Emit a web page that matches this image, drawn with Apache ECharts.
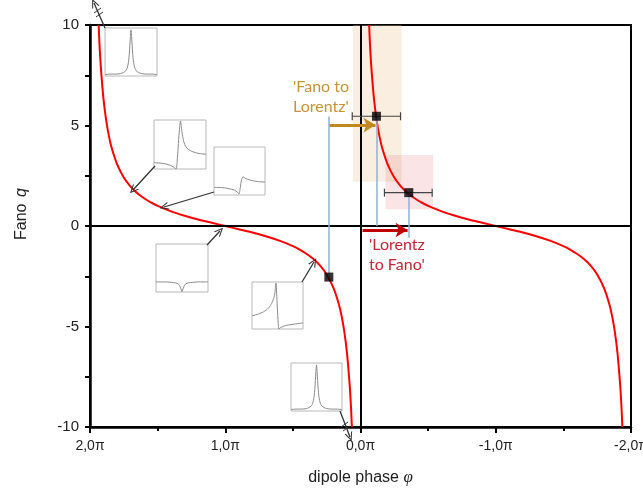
<!DOCTYPE html>
<html>
<head>
<meta charset="utf-8">
<script src="https://cdn.jsdelivr.net/npm/echarts@6/dist/echarts.min.js"></script>
<style>
  html, body { margin: 0; padding: 0; background: #fff; }
  #chart { width: 643px; height: 492px; }
</style>
</head>
<body>
<div id="chart"></div>
<script>
// dipole phase in units of pi, Fano q
const phaseLeft = [1.936, 1.93, 1.92, 1.90, 1.88, 1.86, 1.84, 1.80, 1.75, 1.70, 1.65, 1.60, 1.55, 1.50, 1.40, 1.30, 1.20, 1.10, 1.00,
  0.90, 0.80, 0.70, 0.60, 0.50, 0.45, 0.40, 0.35, 0.30, 0.25, 0.20, 0.16, 0.14, 0.12, 0.10, 0.08, 0.07, 0.064]
const fanoLeft = [10.0, 9.06, 7.92, 6.31, 5.24, 4.47, 3.89, 3.08, 2.41, 1.96, 1.63, 1.38, 1.17, 1.00, 0.73, 0.51, 0.32, 0.16, 0,
  -0.16, -0.32, -0.51, -0.73, -1.00, -1.17, -1.38, -1.63, -1.96, -2.41, -3.08, -3.89, -4.47, -5.24, -6.31, -7.92, -9.06, -10.0]
const phaseRight = [-0.064, -0.07, -0.08, -0.10, -0.12, -0.14, -0.16, -0.20, -0.25, -0.30, -0.35, -0.40, -0.45, -0.50, -0.60, -0.70, -0.80, -0.90, -1.00,
  -1.10, -1.20, -1.30, -1.40, -1.50, -1.55, -1.60, -1.65, -1.70, -1.75, -1.80, -1.84, -1.86, -1.88, -1.90, -1.92, -1.93, -1.936]
const fanoRight = [10.0, 9.06, 7.92, 6.31, 5.24, 4.47, 3.89, 3.08, 2.41, 1.96, 1.63, 1.38, 1.17, 1.00, 0.73, 0.51, 0.32, 0.16, 0,
  -0.16, -0.32, -0.51, -0.73, -1.00, -1.17, -1.38, -1.63, -1.96, -2.41, -3.08, -3.89, -4.47, -5.24, -6.31, -7.92, -9.06, -10.0]

// measured points (black squares)
const pointPhase = [0.234, -0.118, -0.357]
const pointFano = [-2.54, 5.46, 1.66]

// horizontal error bars: centre phase, q, low, high
const errPhase = [-0.118, -0.357]
const errFano = [5.46, 1.66]
const errFrom = [0.061, -0.177]
const errTo = [-0.296, -0.530]

// shaded ranges [phase from, phase to, q from, q to]
const bandFanoLorentz = [0.056, -0.304, 2.2, 10]
const bandLorentzFano = [-0.185, -0.537, 0.83, 3.53]

// blue guide lines [phase, q from, q to]
const guideLines = [[0.234, 5.45, -2.54], [-0.118, 5.46, 0], [-0.357, 1.66, -0.58]]

// arrows [phase from, phase to, q]
const arrowFanoLorentz = [0.229, -0.111, 5.02]
const arrowLorentzFano = [-0.015, -0.348, -0.2]

const xTicks = [2, 1, 0, -1, -2]

// small line shapes in the insets (x -1..1, y 0..1)
const peakX = [-1, -0.8, -0.6, -0.4, -0.3, -0.2, -0.15, -0.1, -0.06, -0.03, 0, 0.03, 0.06, 0.1, 0.15, 0.2, 0.3, 0.4, 0.6, 0.8, 1]
const peakY = [0.03, 0.04, 0.04, 0.05, 0.07, 0.11, 0.16, 0.28, 0.5, 0.77, 0.96, 0.77, 0.5, 0.28, 0.16, 0.11, 0.07, 0.05, 0.04, 0.04, 0.03]
const fanoPosX = [-1, -0.6, -0.4, -0.25, -0.15, -0.11, -0.07, -0.03, 0.02, 0.06, 0.1, 0.15, 0.22, 0.32, 0.5, 0.7, 1]
const fanoPosY = [0.13, 0.11, 0.08, 0.04, 0.0, 0.15, 0.45, 0.75, 0.98, 0.82, 0.67, 0.55, 0.46, 0.4, 0.35, 0.32, 0.3]
const fanoOneX = [-1, -0.6, -0.4, -0.2, -0.08, -0.02, 0.03, 0.08, 0.14, 0.2, 0.3, 0.5, 0.7, 1]
const fanoOneY = [0.16, 0.15, 0.13, 0.1, 0.06, 0.02, 0.15, 0.32, 0.38, 0.36, 0.33, 0.3, 0.28, 0.27]
const dipX = [-1, -0.6, -0.4, -0.25, -0.15, -0.1, -0.05, 0, 0.05, 0.1, 0.15, 0.25, 0.4, 0.6, 1]
const dipY = [0.21, 0.21, 0.2, 0.19, 0.17, 0.14, 0.08, 0.01, 0.08, 0.14, 0.17, 0.19, 0.2, 0.21, 0.21]
const fanoNegX = [-1, -0.8, -0.6, -0.4, -0.25, -0.15, -0.1, -0.06, -0.02, 0.02, 0.06, 0.12, 0.3, 0.6, 1]
const fanoNegY = [0.28, 0.31, 0.35, 0.42, 0.52, 0.65, 0.78, 0.98, 0.6, 0.2, 0.0, 0.03, 0.07, 0.1, 0.13]

const zip = (a, b) => a.map((v, i) => [v, b[i]])

const insets = [
  { box: { left: 105, top: 28, width: 52, height: 48 }, data: zip(peakX, peakY), from: [105, 28], to: [94, 3] },
  { box: { left: 154, top: 120, width: 52, height: 49 }, data: zip(fanoPosX, fanoPosY), from: [155, 166], to: [133, 190] },
  { box: { left: 214, top: 147, width: 51, height: 48 }, data: zip(fanoOneX, fanoOneY), from: [214, 192], to: [164, 207] },
  { box: { left: 156, top: 244, width: 52, height: 48 }, data: zip(dipX, dipY), from: [207, 245], to: [220, 231] },
  { box: { left: 252, top: 282, width: 51, height: 47 }, data: zip(fanoNegX, fanoNegY), from: [302, 282], to: [314, 262] },
  { box: { left: 291, top: 363, width: 51, height: 48 }, data: zip(peakX, peakY), from: [340, 411], to: [350, 437] },
]

const font = 'Liberation Sans, Arial, sans-serif'
const chevron = 'path://M0,10 L5,0 L10,10 L8.6,10 L5,2.8 L1.4,10 Z'

const chart = echarts.init(document.getElementById('chart'))

const grids = [{ left: 90, right: 12, top: 25, bottom: 65, outerBoundsMode: 'none', show: true, borderColor: '#000', borderWidth: 2 }]
const xAxes = [{
  type: 'value', min: -2, max: 2, interval: 1, inverse: true,
  name: '{n|dipole phase }{i|φ}', nameLocation: 'middle', nameGap: 42,
  nameTextStyle: { rich: { n: { fontSize: 16, fontFamily: font, color: '#222' }, i: { fontSize: 17, fontFamily: 'Liberation Serif', fontStyle: 'italic', color: '#222' } } },
  axisLine: { onZero: false, lineStyle: { color: '#000', width: 2.5 } },
  axisTick: { length: 6, lineStyle: { width: 2, color: '#000' } },
  minorTick: { show: true, splitNumber: 2, length: 4, lineStyle: { width: 2, color: '#000' } },
  splitLine: { show: false },
  axisLabel: {
    margin: 12, fontSize: 14, color: '#222', fontFamily: font,
    customValues: xTicks,
    formatter: v => v.toFixed(1).replace('.', ',').replace('-0,0', '0,0') + 'π'
  }
}]
const yAxes = [{
  type: 'value', min: -10, max: 10, interval: 5,
  name: '{n|Fano}  {i|q}', nameLocation: 'middle', nameRotate: 90, nameGap: 60,
  nameTextStyle: { padding: [0, 0, 0, 24], rich: { n: { fontSize: 16, fontFamily: font, color: '#222' }, i: { fontSize: 16, fontFamily: font, fontStyle: 'italic', color: '#222' } } },
  axisLine: { onZero: false, lineStyle: { color: '#000', width: 2.5 } },
  axisTick: { length: 5, lineStyle: { width: 2, color: '#000' } },
  minorTick: { show: true, splitNumber: 2, length: 5, lineStyle: { width: 2, color: '#000' } },
  splitLine: { show: false },
  axisLabel: { margin: 11, fontSize: 15, color: '#222', fontFamily: font }
}]

const series = [
  {
    type: 'line', data: [], z: 1, silent: true,
    markArea: {
      silent: true,
      data: [
        [{ coord: [bandFanoLorentz[0], bandFanoLorentz[3]], itemStyle: { color: 'rgba(235,200,150,0.3)' } }, { coord: [bandFanoLorentz[1], bandFanoLorentz[2]] }],
        [{ coord: [bandLorentzFano[0], bandLorentzFano[3]], itemStyle: { color: 'rgba(230,130,140,0.22)' } }, { coord: [bandLorentzFano[1], bandLorentzFano[2]] }]
      ]
    }
  },
  {
    type: 'line', data: [], z: 2, silent: true,
    markLine: {
      silent: true, symbol: 'none', label: { show: false },
      lineStyle: { color: '#000', width: 2, type: 'solid' },
      data: [{ yAxis: 0 }, { xAxis: 0 }]
    }
  },
  {
    type: 'line', data: [], z: 2, silent: true,
    markLine: {
      silent: true, symbol: 'none', label: { show: false },
      lineStyle: { color: '#8fb0d8', width: 1.5, type: 'solid' },
      data: guideLines.map(g => [{ coord: [g[0], g[1]] }, { coord: [g[0], g[2]] }])
    }
  },
  {
    type: 'line', data: [], z: 4, silent: true,
    markLine: {
      silent: true, symbol: ['none', 'arrow'], symbolSize: [11, 12], label: { show: false },
      lineStyle: { color: '#c08a20', width: 3, type: 'solid' },
      data: [[{ coord: [arrowFanoLorentz[0], arrowFanoLorentz[2]] }, { coord: [arrowFanoLorentz[1], arrowFanoLorentz[2]] }]]
    }
  },
  {
    type: 'line', data: [], z: 4, silent: true,
    markLine: {
      silent: true, symbol: ['none', 'arrow'], symbolSize: [11, 12], label: { show: false },
      lineStyle: { color: '#c00000', width: 3, type: 'solid' },
      data: [[{ coord: [arrowLorentzFano[0], arrowLorentzFano[2]] }, { coord: [arrowLorentzFano[1], arrowLorentzFano[2]] }]]
    }
  },
  {
    type: 'line', data: [], z: 5, silent: true,
    markLine: {
      silent: true, symbol: ['none', chevron], symbolSize: [8, 9], label: { show: false },
      lineStyle: { color: '#333', width: 1.3, type: 'solid' },
      data: insets.map(s => [{ x: s.from[0], y: s.from[1] }, { x: s.to[0], y: s.to[1] }])
    }
  },
  {
    name: 'left', type: 'line', data: zip(phaseLeft, fanoLeft), smooth: 0.3, showSymbol: false, z: 3,
    lineStyle: { color: '#ff0000', width: 2 }
  },
  {
    name: 'right', type: 'line', data: zip(phaseRight, fanoRight), smooth: 0.3, showSymbol: false, z: 3,
    lineStyle: { color: '#ff0000', width: 2 }
  },
  {
    type: 'custom', z: 6,
    data: errPhase.map((p, i) => [p, errFano[i], errFrom[i], errTo[i]]),
    renderItem: (params, api) => {
      const a = api.coord([api.value(2), api.value(1)])
      const b = api.coord([api.value(3), api.value(1)])
      const st = { stroke: '#444', lineWidth: 1.2 }
      return {
        type: 'group',
        children: [
          { type: 'line', shape: { x1: a[0], y1: a[1], x2: b[0], y2: b[1] }, style: st },
          { type: 'line', shape: { x1: a[0], y1: a[1] - 4, x2: a[0], y2: a[1] + 4 }, style: st },
          { type: 'line', shape: { x1: b[0], y1: b[1] - 4, x2: b[0], y2: b[1] + 4 }, style: st }
        ]
      }
    }
  },
  {
    type: 'scatter', data: zip(pointPhase, pointFano), symbol: 'rect', symbolSize: 9, z: 7,
    itemStyle: { color: '#000' }
  }
]

insets.forEach((s, i) => {
  grids.push(Object.assign({ show: true, borderColor: '#b8b8b8', borderWidth: 1, backgroundColor: '#fff', z: 3, outerBoundsMode: 'none' }, s.box))
  xAxes.push({ gridIndex: i + 1, type: 'value', min: -1, max: 1, show: false })
  yAxes.push({ gridIndex: i + 1, type: 'value', min: 0, max: 1, show: false })
  series.push({
    type: 'line', xAxisIndex: i + 1, yAxisIndex: i + 1, data: s.data, smooth: 0.25, showSymbol: false, z: 4,
    lineStyle: { color: '#8a8a8a', width: 1 }
  })
})

const option = {
  animation: false,
  backgroundColor: '#fff',
  grid: grids,
  xAxis: xAxes,
  yAxis: yAxes,
  series: series,
  graphic: [
    { type: 'text', left: 293, top: 77, z: 10, style: { text: "'Fano to\nLorentz'", fontFamily: 'Lato, sans-serif', fontSize: 16, lineHeight: 20, fill: '#c8923a' } },
    { type: 'text', left: 369, top: 235, z: 10, style: { text: "'Lorentz\nto Fano'", fontFamily: 'Lato, sans-serif', fontSize: 16, lineHeight: 20, fill: '#c0283a' } },
    // break marks on the arrows that point off the scale
    { type: 'line', z: 10, shape: { x1: 94, y1: 13, x2: 101, y2: 8 }, style: { stroke: '#333', lineWidth: 1 } },
    { type: 'line', z: 10, shape: { x1: 96, y1: 17, x2: 103, y2: 12 }, style: { stroke: '#333', lineWidth: 1 } },
    { type: 'line', z: 10, shape: { x1: 341, y1: 427, x2: 348, y2: 422 }, style: { stroke: '#333', lineWidth: 1 } },
    { type: 'line', z: 10, shape: { x1: 343, y1: 431, x2: 350, y2: 426 }, style: { stroke: '#333', lineWidth: 1 } }
  ]
}

chart.setOption(option)
</script>
</body>
</html>
